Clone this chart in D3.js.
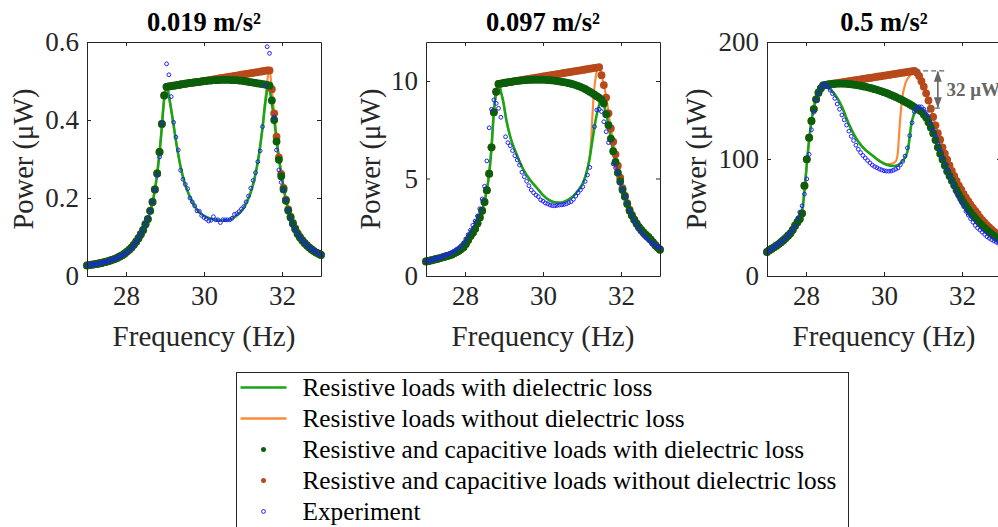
<!DOCTYPE html>
<html>
<head>
<meta charset="utf-8">
<script src="https://cdn.jsdelivr.net/npm/d3@7"></script>
<style>
  body { margin: 0; background: #fff; }
  svg { display: block; font-family: 'Liberation Serif', 'Times New Roman', serif; }
</style>
</head>
<body>
<svg id="chart" width="998" height="527"></svg>
<script>
// frequency sweep (Hz) shared by the dot series and the experiment
const freq = [
  27.00, 27.06, 27.12, 27.18, 27.24, 27.30, 27.36, 27.42, 27.48, 27.54,
  27.60, 27.66, 27.72, 27.78, 27.84, 27.90, 27.96, 28.02, 28.08, 28.14,
  28.20, 28.26, 28.32, 28.38, 28.44, 28.50, 28.56, 28.62, 28.68, 28.74,
  28.80, 28.86, 28.92, 28.98, 29.04, 29.10, 29.16, 29.22, 29.28, 29.34,
  29.40, 29.46, 29.52, 29.58, 29.64, 29.70, 29.76, 29.82, 29.88, 29.94,
  30.00, 30.06, 30.12, 30.18, 30.24, 30.30, 30.36, 30.42, 30.48, 30.54,
  30.60, 30.66, 30.72, 30.78, 30.84, 30.90, 30.96, 31.02, 31.08, 31.14,
  31.20, 31.26, 31.32, 31.38, 31.44, 31.50, 31.56, 31.62, 31.68, 31.74,
  31.80, 31.86, 31.92, 31.98, 32.04, 32.10, 32.16, 32.22, 32.28, 32.34,
  32.40, 32.46, 32.52, 32.58, 32.64, 32.70, 32.76, 32.82, 32.88, 32.94,
  33.00
];

const titles = ['0.019 m/s²', '0.097 m/s²', '0.5 m/s²'];
const yMaxes = [0.6, 12, 200];
const yTicks = [[0, 0.2, 0.4, 0.6], [0, 5, 10], [0, 100, 200]];
const xTicks = [28, 30, 32];

// ---- 0.019 m/s2 ----
const exp1 = [
  0.027, 0.028, 0.029, 0.030, 0.031, 0.032, 0.033, 0.035, 0.036, 0.038,
  0.040, 0.042, 0.044, 0.047, 0.050, 0.053, 0.057, 0.061, 0.066, 0.072,
  0.079, 0.087, 0.097, 0.108, 0.120, 0.135, 0.150, 0.168, 0.190, 0.220,
  0.258, 0.305, 0.392, null, 0.544, 0.516, 0.460, 0.394, 0.356, 0.323,
  0.271, 0.248, 0.235, 0.224, 0.200, 0.190, 0.180, 0.167, 0.166, 0.155,
  0.150, 0.146, 0.141, 0.143, 0.152, 0.144, 0.144, 0.137, 0.144, 0.144,
  0.144, 0.144, 0.148, 0.158, 0.160, 0.165, 0.172, 0.178, 0.190, 0.205,
  0.225, 0.245, 0.265, 0.293, 0.321, 0.383, 0.489, 0.588, 0.571, null,
  0.408, 0.323, 0.272, 0.240, 0.220, 0.196, 0.169, 0.147, 0.130, 0.118,
  0.107, 0.099, 0.091, 0.086, 0.079, 0.074, 0.069, 0.066, 0.062, 0.057,
  0.053
];
const rcLoss1 = [
  0.027, 0.028, 0.029, 0.030, 0.031, 0.032, 0.033, 0.035, 0.036, 0.038,
  0.040, 0.042, 0.044, 0.047, 0.050, 0.053, 0.057, 0.062, 0.067, 0.073,
  0.080, 0.088, 0.097, 0.107, 0.118, 0.133, 0.146, 0.167, 0.190, 0.222,
  0.263, 0.318, 0.390, 0.463, 0.485, 0.486, 0.487, 0.488, 0.489, 0.490,
  0.491, 0.492, 0.493, 0.494, 0.495, 0.496, 0.497, 0.497, 0.498, 0.499,
  0.500, 0.500, 0.501, 0.501, 0.502, 0.502, 0.502, 0.503, 0.503, 0.503,
  0.503, 0.503, 0.502, 0.502, 0.502, 0.501, 0.501, 0.500, 0.499, 0.498,
  0.497, 0.496, 0.495, 0.494, 0.493, 0.492, 0.491, 0.490, 0.488, 0.450,
  0.400, 0.345, 0.298, 0.256, 0.222, 0.193, 0.168, 0.150, 0.134, 0.120,
  0.108, 0.099, 0.091, 0.084, 0.078, 0.073, 0.068, 0.064, 0.060, 0.057,
  0.054
];
const rcNoLoss1 = [
  0.027, 0.028, 0.029, 0.030, 0.031, 0.032, 0.033, 0.035, 0.036, 0.038,
  0.040, 0.042, 0.044, 0.047, 0.050, 0.053, 0.057, 0.062, 0.067, 0.073,
  0.080, 0.088, 0.097, 0.107, 0.118, 0.133, 0.146, 0.167, 0.190, 0.222,
  0.263, 0.318, 0.390, 0.463, 0.485, 0.486, 0.487, 0.488, 0.489, 0.490,
  0.491, 0.492, 0.493, 0.494, 0.495, 0.495, 0.496, 0.497, 0.498, 0.499,
  0.500, 0.501, 0.502, 0.503, 0.504, 0.505, 0.506, 0.507, 0.508, 0.509,
  0.510, 0.511, 0.512, 0.513, 0.514, 0.515, 0.516, 0.517, 0.518, 0.519,
  0.520, 0.521, 0.522, 0.523, 0.524, 0.525, 0.526, 0.527, 0.527, 0.479,
  0.417, 0.357, 0.304, 0.262, 0.226, 0.196, 0.171, 0.152, 0.136, 0.122,
  0.110, 0.100, 0.092, 0.085, 0.079, 0.073, 0.068, 0.064, 0.060, 0.057,
  0.054
];
const resLoss1 = [
  [27.0, 0.027], [27.5, 0.037], [28.0, 0.060], [28.3, 0.094], [28.5, 0.133],
  [28.6, 0.158], [28.7, 0.198], [28.8, 0.262], [28.9, 0.36], [28.98, 0.455],
  [29.05, 0.485], [29.12, 0.45], [29.2, 0.40], [29.3, 0.335], [29.4, 0.28],
  [29.5, 0.24], [29.6, 0.212], [29.7, 0.19], [29.8, 0.173], [29.9, 0.162],
  [30.0, 0.154], [30.2, 0.146], [30.4, 0.142], [30.6, 0.143], [30.8, 0.152],
  [31.0, 0.172], [31.1, 0.19], [31.2, 0.215], [31.3, 0.252], [31.4, 0.305],
  [31.5, 0.38], [31.58, 0.45], [31.66, 0.49], [31.72, 0.455], [31.8, 0.40],
  [31.9, 0.315], [32.0, 0.25], [32.1, 0.195], [32.2, 0.158], [32.3, 0.13],
  [32.4, 0.108], [32.5, 0.093], [32.6, 0.082], [32.7, 0.073], [32.8, 0.066],
  [32.9, 0.059], [33.0, 0.054]
];
const resNoLoss1 = [
  [27.0, 0.027], [27.5, 0.037], [28.0, 0.060], [28.3, 0.094], [28.5, 0.133],
  [28.6, 0.158], [28.7, 0.198], [28.8, 0.262], [28.9, 0.36], [28.98, 0.455],
  [29.05, 0.485], [29.12, 0.45], [29.2, 0.40], [29.3, 0.335], [29.4, 0.28],
  [29.5, 0.24], [29.6, 0.212], [29.7, 0.19], [29.8, 0.173], [29.9, 0.162],
  [30.0, 0.154], [30.2, 0.146], [30.4, 0.142], [30.6, 0.143], [30.8, 0.152],
  [31.0, 0.172], [31.1, 0.19], [31.2, 0.215], [31.3, 0.252], [31.4, 0.305],
  [31.5, 0.38], [31.58, 0.46], [31.68, 0.527], [31.74, 0.479], [31.8, 0.417],
  [31.9, 0.325], [32.0, 0.255], [32.1, 0.197], [32.2, 0.16], [32.3, 0.131],
  [32.4, 0.109], [32.5, 0.094], [32.6, 0.082], [32.7, 0.073], [32.8, 0.066],
  [32.9, 0.059], [33.0, 0.054]
];

// ---- 0.097 m/s2 ----
const exp2 = [
  0.75, 0.78, 0.81, 0.84, 0.88, 0.92, 0.96, 1.00, 1.05, 1.10,
  1.15, 1.21, 1.28, 1.36, 1.45, 1.56, 1.70, 1.90, 2.12, 2.35,
  2.60, 2.82, 3.08, 3.45, 3.95, 4.60, 5.90, 7.60, 8.55, 9.03,
  8.85, 8.60, 8.14, null, 7.14, 6.84, 6.68, 6.43, 6.17, 5.95,
  5.69, 5.32, 5.09, 4.86, 4.63, 4.41, 4.27, 4.15, 4.07, 3.90,
  3.84, 3.74, 3.70, 3.64, 3.61, 3.60, 3.62, 3.64, 3.65, 3.67,
  3.70, 3.76, 3.81, 3.93, 4.10, 4.27, 4.41, 4.58, 4.85, 5.18,
  5.57, null, 7.66, 8.51, 8.55, 8.43, 7.91, 7.40, 6.84, null,
  5.75, 5.55, 5.27, 4.75, 4.45, 4.10, 3.76, 3.38, 3.13, 2.84,
  2.62, 2.41, 2.24, 2.08, 1.95, 1.84, 1.74, 1.65, 1.58, 1.51,
  1.44
];
const rcLoss2 = [
  0.75, 0.77, 0.80, 0.83, 0.86, 0.89, 0.92, 0.96, 0.99, 1.03,
  1.06, 1.10, 1.16, 1.22, 1.30, 1.38, 1.48, 1.64, 1.84, 2.05,
  2.22, 2.42, 2.70, 3.00, 3.35, 3.80, 4.40, 5.25, 6.60, 8.40,
  9.45, 9.85, 9.87, 9.89, 9.91, 9.93, 9.95, 9.97, 9.99, 10.01,
  10.02, 10.03, 10.04, 10.05, 10.06, 10.06, 10.07, 10.07, 10.07, 10.07,
  10.07, 10.06, 10.05, 10.04, 10.03, 10.02, 10.00, 9.98, 9.96, 9.94,
  9.92, 9.89, 9.86, 9.83, 9.79, 9.75, 9.70, 9.65, 9.59, 9.52,
  9.45, 9.38, 9.30, 9.22, 9.14, 9.05, 8.85, 8.30, 7.73, 7.05,
  6.40, 5.85, 5.30, 4.85, 4.41, 4.07, 3.69, 3.35, 3.10, 2.88,
  2.68, 2.50, 2.35, 2.22, 2.10, 2.00, 1.87, 1.72, 1.58, 1.46,
  1.35
];
const rcNoLoss2 = [
  0.75, 0.77, 0.80, 0.83, 0.86, 0.89, 0.92, 0.96, 0.99, 1.03,
  1.06, 1.10, 1.16, 1.22, 1.30, 1.38, 1.48, 1.64, 1.84, 2.05,
  2.22, 2.42, 2.70, 3.00, 3.35, 3.80, 4.40, 5.25, 6.60, 8.40,
  9.45, 9.85, 9.87, 9.89, 9.91, 9.93, 9.95, 9.97, 9.99, 10.01,
  10.03, 10.05, 10.07, 10.09, 10.11, 10.13, 10.15, 10.17, 10.19, 10.21,
  10.23, 10.25, 10.27, 10.29, 10.31, 10.33, 10.35, 10.37, 10.39, 10.41,
  10.43, 10.45, 10.47, 10.49, 10.51, 10.53, 10.55, 10.57, 10.59, 10.61,
  10.63, 10.65, 10.67, 10.69, 10.71, 10.30, 9.79, 9.15, 8.34, 7.57,
  6.89, 6.24, 5.66, 5.04, 4.50, 4.12, 3.74, 3.40, 3.13, 2.90,
  2.70, 2.52, 2.37, 2.24, 2.12, 2.01, 1.88, 1.73, 1.59, 1.47,
  1.36
];
const resLoss2 = [
  [27.0, 0.75], [27.5, 0.98], [27.8, 1.22], [28.0, 1.55], [28.2, 2.22],
  [28.35, 2.85], [28.45, 3.45], [28.55, 4.3], [28.62, 5.25], [28.68, 6.6],
  [28.74, 8.4], [28.8, 9.45], [28.86, 9.85], [28.92, 9.45], [28.98, 8.95],
  [29.06, 8.0], [29.16, 7.14], [29.33, 6.21], [29.5, 5.44], [29.67, 4.92],
  [29.85, 4.5], [30.0, 4.15], [30.15, 3.9], [30.3, 3.78], [30.45, 3.76],
  [30.6, 3.86], [30.76, 4.07], [30.9, 4.38], [31.02, 4.75], [31.1, 5.2],
  [31.19, 5.95], [31.27, 7.0], [31.36, 8.1], [31.43, 8.7], [31.48, 9.0],
  [31.53, 9.0], [31.6, 8.45], [31.68, 7.73], [31.74, 7.05], [31.8, 6.4],
  [31.9, 5.45], [32.0, 4.7], [32.1, 4.07], [32.22, 3.35], [32.34, 2.88],
  [32.46, 2.5], [32.58, 2.22], [32.7, 2.0], [32.82, 1.72], [32.94, 1.46],
  [33.0, 1.35]
];
const resNoLoss2 = [
  [27.0, 0.75], [27.5, 0.98], [27.8, 1.22], [28.0, 1.55], [28.2, 2.22],
  [28.35, 2.85], [28.45, 3.45], [28.55, 4.3], [28.62, 5.25], [28.68, 6.6],
  [28.74, 8.4], [28.8, 9.45], [28.86, 9.85], [28.92, 9.45], [28.98, 8.95],
  [29.06, 8.0], [29.16, 7.14], [29.33, 6.21], [29.5, 5.44], [29.67, 4.92],
  [29.85, 4.5], [30.0, 4.15], [30.15, 3.9], [30.3, 3.78], [30.45, 3.76],
  [30.6, 3.86], [30.76, 4.07], [30.9, 4.38], [31.02, 4.75], [31.1, 5.15],
  [31.18, 5.9], [31.23, 6.8], [31.27, 8.3], [31.31, 9.5], [31.36, 10.3],
  [31.43, 10.72], [31.5, 10.3], [31.56, 9.79], [31.63, 9.08], [31.68, 8.34],
  [31.74, 7.57], [31.8, 6.89], [31.86, 6.24], [31.92, 5.66], [31.98, 5.04],
  [32.04, 4.5], [32.16, 3.74], [32.28, 3.13], [32.4, 2.7], [32.52, 2.37],
  [32.64, 2.12], [32.76, 1.88], [32.88, 1.59], [33.0, 1.36]
];

// ---- 0.5 m/s2 ----
const exp3 = [
  20.5, 22.0, 23.4, 24.8, 26.2, 27.7, 29.3, 31.0, 32.9, 34.9,
  37.2, 39.8, 42.7, 49.0, 54.5, 60.0, 70.0, 83.0, 104.0, 125.0,
  140.0, 150.5, 156.5, 161.0, 163.8, 163.4, 161.6, 158.8, 155.8, 151.8,
  147.0, 142.5, 137.6, 133.5, 129.0, 123.8, 119.4, 115.8, 111.8, 108.3,
  105.5, 103.0, 100.8, 98.7, 96.7, 94.8, 93.5, 92.5, 91.4, 90.7,
  90.0, 89.7, 89.6, 89.7, 90.4, 91.3, 92.3, 95.0, 98.0, 102.5,
  109.5, 120.0, 131.0, 140.4, 143.5, 144.7, 144.5, 142.5, 139.6, 136.2,
  130.5, 124.8, 119.7, 113.4, 107.8, 101.5, 95.8, 90.7, 86.0, 81.0,
  76.0, 70.8, 67.2, 63.2, 59.5, 55.3, 52.1, 49.0, 46.0, 43.3,
  41.0, 39.3, 37.4, 35.6, 33.6, 32.3, 31.0, 30.0, 28.9, 27.9,
  27.0
];
const rcLoss3 = [
  20.5, 22.0, 23.3, 24.5, 25.9, 27.3, 28.9, 30.6, 32.4, 34.4,
  36.5, 39.5, 43.0, 46.0, 48.7, 53.6, 77.2, 99.7, 118.2, 132.5,
  142.7, 151.0, 156.7, 160.4, 163.0, 163.4, 163.7, 164.0, 164.2, 164.3,
  164.4, 164.5, 164.5, 164.4, 164.3, 164.1, 163.9, 163.6, 163.3, 163.0,
  162.6, 162.2, 161.8, 161.3, 160.8, 160.3, 159.7, 159.1, 158.5, 157.8,
  157.1, 156.4, 155.6, 154.8, 153.9, 153.0, 152.1, 151.1, 150.1, 149.0,
  147.9, 146.8, 145.6, 144.4, 143.1, 141.8, 140.5, 138.0, 135.5, 131.5,
  127.0, 122.0, 116.2, 110.0, 104.5, 99.5, 94.5, 89.5, 85.5, 81.5,
  77.5, 73.5, 69.8, 66.2, 63.0, 60.0, 57.0, 54.3, 51.8, 49.5,
  47.2, 45.0, 43.0, 41.0, 39.2, 37.5, 35.9, 34.4, 33.0, 31.7,
  30.5
];
const rcNoLoss3 = [
  20.5, 22.0, 23.3, 24.5, 25.9, 27.3, 28.9, 30.6, 32.4, 34.4,
  36.5, 39.5, 43.0, 46.0, 48.7, 53.6, 77.2, 99.7, 118.2, 132.5,
  142.7, 151.0, 156.7, 160.4, 163.0, 163.3, 163.6, 163.9, 164.3, 164.6,
  164.9, 165.2, 165.5, 165.8, 166.2, 166.5, 166.8, 167.1, 167.4, 167.7,
  168.1, 168.4, 168.7, 169.0, 169.3, 169.6, 170.0, 170.3, 170.6, 170.9,
  171.2, 171.5, 171.9, 172.2, 172.5, 172.8, 173.1, 173.4, 173.8, 174.1,
  174.4, 174.7, 175.0, 175.4, 174.0, 171.0, 166.5, 161.8, 156.1, 150.0,
  143.0, 136.0, 128.8, 122.0, 116.5, 110.0, 104.5, 99.5, 94.5, 89.8,
  85.5, 81.3, 77.3, 73.8, 70.2, 67.0, 64.0, 61.0, 58.3, 55.7,
  53.0, 50.0, 47.7, 45.5, 43.4, 41.5, 39.7, 38.0, 36.4, 34.9,
  33.5
];
const resLoss3 = [
  [27.0, 20.5], [27.3, 27.3], [27.6, 36.5], [27.75, 44], [27.85, 50],
  [27.92, 60], [27.98, 80], [28.04, 103], [28.1, 122], [28.16, 137],
  [28.22, 147], [28.3, 155.5], [28.38, 161], [28.45, 163.2], [28.52, 162.5],
  [28.6, 160.3], [28.75, 154.7], [28.92, 144.7], [29.09, 130.5], [29.26, 119],
  [29.44, 110.5], [29.69, 103.4], [29.9, 98], [30.07, 95], [30.24, 94],
  [30.37, 94.9], [30.46, 97.7], [30.55, 102], [30.61, 107.7], [30.66, 119],
  [30.69, 127.6], [30.76, 137.6], [30.85, 142.5], [30.93, 143.3], [31.0, 141],
  [31.1, 134.8], [31.2, 127], [31.32, 116.2], [31.44, 104.5], [31.56, 94.5],
  [31.68, 85.5], [31.8, 77.5], [31.92, 69.8], [32.04, 63], [32.16, 57],
  [32.28, 51.8], [32.4, 47.2], [32.52, 43], [32.64, 39.2], [32.76, 35.9],
  [32.88, 33], [33.0, 30.5]
];
const resNoLoss3 = [
  [27.0, 20.5], [27.3, 27.3], [27.6, 36.5], [27.75, 44], [27.85, 50],
  [27.92, 60], [27.98, 80], [28.04, 103], [28.1, 122], [28.16, 137],
  [28.22, 147], [28.3, 155.5], [28.38, 161], [28.45, 163.2], [28.52, 162.5],
  [28.6, 160.3], [28.75, 154.7], [28.92, 144.7], [29.09, 130.5], [29.26, 119],
  [29.44, 110.5], [29.69, 103.4], [29.9, 98], [30.07, 95.5], [30.2, 96],
  [30.3, 98], [30.35, 104], [30.4, 127.6], [30.46, 150.4], [30.55, 164.7],
  [30.68, 171.8], [30.78, 175.4], [30.84, 174], [30.9, 171], [30.96, 166.5],
  [31.02, 161.8], [31.08, 156.1], [31.14, 150], [31.2, 143], [31.32, 128.8],
  [31.44, 116.5], [31.56, 104.5], [31.68, 94.5], [31.8, 85.5], [31.92, 77.3],
  [32.04, 70.2], [32.16, 64], [32.28, 58.3], [32.4, 53], [32.52, 47.7],
  [32.64, 43.4], [32.76, 39.7], [32.88, 36.4], [33.0, 33.5]
];

// 32 uW gap marked on the 0.5 m/s2 panel
const gapTop = 175.4;
const gapSize = 32;

const legendLabels = [
  'Resistive loads with dielectric loss',
  'Resistive loads without dielectric loss',
  'Resistive and capacitive loads with dielectric loss',
  'Resistive and capacitive loads without dielectric loss',
  'Experiment'
];

const colors = {
  resLoss: '#17a617',
  resNoLoss: '#fb8a3c',
  rcLoss: '#0b5f0b',
  rcNoLoss: '#b8491a',
  exp: '#1f1fff',
  axis: '#262626'
};

const panels = [
  { exp: exp1, rcLoss: rcLoss1, rcNoLoss: rcNoLoss1, resLoss: resLoss1, resNoLoss: resNoLoss1 },
  { exp: exp2, rcLoss: rcLoss2, rcNoLoss: rcNoLoss2, resLoss: resLoss2, resNoLoss: resNoLoss2 },
  { exp: exp3, rcLoss: rcLoss3, rcNoLoss: rcNoLoss3, resLoss: resLoss3, resNoLoss: resNoLoss3 }
];

const svg = d3.select('#chart');
const plotTop = 42;
const width = 234;
const height = 234;
const panelLeft = [87, 426, 767];
const yLabelOffset = [64, 56, 71];

const defs = svg.append('defs');
defs
  .append('marker')
  .attr('id', 'arrow')
  .attr('viewBox', '0 0 10 10')
  .attr('refX', 9)
  .attr('refY', 5)
  .attr('markerWidth', 7)
  .attr('markerHeight', 7)
  .attr('orient', 'auto-start-reverse')
  .append('path')
  .attr('d', 'M0,1.5 L10,5 L0,8.5 z')
  .attr('fill', '#666');

panels.forEach((p, k) => {
  const g = svg.append('g').attr('transform', `translate(${panelLeft[k]},${plotTop})`);

  const x = d3.scaleLinear().domain([27, 33]).range([0, width]);
  const y = d3.scaleLinear().domain([0, yMaxes[k]]).range([height, 0]);

  const line = d3
    .line()
    .x((d) => x(d[0]))
    .y((d) => y(d[1]))
    .curve(d3.curveMonotoneX);

  // model curves with resistive loads
  g.append('path')
    .datum(p.resNoLoss)
    .attr('fill', 'none')
    .attr('stroke', colors.resNoLoss)
    .attr('stroke-width', 2.2)
    .attr('d', line);
  g.append('path')
    .datum(p.resLoss)
    .attr('fill', 'none')
    .attr('stroke', colors.resLoss)
    .attr('stroke-width', 2.6)
    .attr('d', line);

  // resistive + capacitive loads (dots)
  const dots = (values, color) => {
    g.append('g')
      .selectAll('circle')
      .data(values.map((v, i) => [freq[i], v]))
      .enter()
      .append('circle')
      .attr('cx', (d) => x(d[0]))
      .attr('cy', (d) => y(d[1]))
      .attr('r', 3.9)
      .attr('fill', color);
  };
  dots(p.rcNoLoss, colors.rcNoLoss);
  dots(p.rcLoss, colors.rcLoss);

  // experiment (open circles)
  g.append('g')
    .selectAll('circle')
    .data(p.exp.map((v, i) => [freq[i], v]).filter((d) => d[1] !== null))
    .enter()
    .append('circle')
    .attr('cx', (d) => x(d[0]))
    .attr('cy', (d) => y(d[1]))
    .attr('r', 1.9)
    .attr('fill', 'none')
    .attr('stroke', colors.exp)
    .attr('stroke-width', 1);

  // box with inward ticks on all four sides
  const styleAxis = (sel) => {
    sel.selectAll('path, line').attr('stroke', colors.axis);
    sel.selectAll('text').attr('fill', colors.axis).style('font-size', '27px');
    sel.attr('font-family', null);
  };
  g.append('g')
    .attr('transform', `translate(0,${height})`)
    .call(d3.axisBottom(x).tickValues(xTicks).tickFormat((d) => d).tickSize(-4).tickSizeOuter(0).tickPadding(10))
    .call(styleAxis);
  g.append('g')
    .call(d3.axisTop(x).tickValues(xTicks).tickSize(-4).tickSizeOuter(0).tickFormat(''))
    .call(styleAxis);
  g.append('g')
    .call(d3.axisLeft(y).tickValues(yTicks[k]).tickFormat((d) => d).tickSize(-4).tickSizeOuter(0).tickPadding(8))
    .call(styleAxis);
  g.append('g')
    .attr('transform', `translate(${width},0)`)
    .call(d3.axisRight(y).tickValues(yTicks[k]).tickSize(-4).tickSizeOuter(0).tickFormat(''))
    .call(styleAxis);

  // title and axis labels
  g.append('text')
    .attr('x', width / 2)
    .attr('y', -11)
    .attr('text-anchor', 'middle')
    .style('font-size', '26.5px')
    .style('font-weight', 'bold')
    .text(titles[k]);
  g.append('text')
    .attr('x', width / 2)
    .attr('y', height + 70)
    .attr('text-anchor', 'middle')
    .attr('fill', colors.axis)
    .style('font-size', '29px')
    .text('Frequency (Hz)');
  g.append('text')
    .attr('transform', `translate(${-yLabelOffset[k]},${height / 2}) rotate(-90)`)
    .attr('text-anchor', 'middle')
    .attr('dy', '0.35em')
    .attr('fill', colors.axis)
    .style('font-size', '28.5px')
    .text('Power (μW)');

  // 32 uW annotation on the last panel
  if (k === 2) {
    const ann = g.append('g').attr('stroke', '#666').attr('stroke-width', 1.3);
    ann.append('line')
      .attr('x1', x(30.8)).attr('x2', x(31.58))
      .attr('y1', y(gapTop)).attr('y2', y(gapTop))
      .attr('stroke-dasharray', '5,3');
    ann.append('line')
      .attr('x1', x(31.1)).attr('x2', x(31.5))
      .attr('y1', y(gapTop - gapSize)).attr('y2', y(gapTop - gapSize))
      .attr('stroke-dasharray', '5,3');
    ann.append('line')
      .attr('x1', x(31.38)).attr('x2', x(31.38))
      .attr('y1', y(gapTop) + 1).attr('y2', y(gapTop - gapSize) - 1)
      .attr('stroke-width', 1.6)
      .attr('marker-start', 'url(#arrow)')
      .attr('marker-end', 'url(#arrow)');
    g.append('text')
      .attr('x', x(31.6))
      .attr('y', y(gapTop - gapSize / 2))
      .attr('dy', '0.35em')
      .attr('fill', '#666')
      .style('font-size', '19px')
      .style('font-weight', 'bold')
      .text(`${gapSize} μW`);
  }
});

// legend
const legend = svg.append('g').attr('transform', 'translate(236.5,372.5)');
legend
  .append('rect')
  .attr('width', 612)
  .attr('height', 170)
  .attr('fill', '#fff')
  .attr('stroke', colors.axis)
  .attr('stroke-width', 1);

const legendKeys = ['resLoss', 'resNoLoss', 'rcLoss', 'rcNoLoss', 'exp'];
const rowY = d3.scalePoint().domain(legendKeys).range([15, 139]);

legendKeys.forEach((key, i) => {
  const yy = rowY(key);
  if (key === 'resLoss' || key === 'resNoLoss') {
    legend
      .append('line')
      .attr('x1', 4)
      .attr('x2', 50)
      .attr('y1', yy)
      .attr('y2', yy)
      .attr('stroke', colors[key])
      .attr('stroke-width', 2.6);
  } else if (key === 'exp') {
    legend
      .append('circle')
      .attr('cx', 27)
      .attr('cy', yy)
      .attr('r', 1.9)
      .attr('fill', 'none')
      .attr('stroke', colors.exp)
      .attr('stroke-width', 1);
  } else {
    legend.append('circle').attr('cx', 27).attr('cy', yy).attr('r', 2.5).attr('fill', colors[key]);
  }
  legend
    .append('text')
    .attr('x', 66)
    .attr('y', yy)
    .attr('dy', '0.35em')
    .attr('fill', '#000')
    .style('font-size', '25.3px')
    .text(legendLabels[i]);
});
</script>
</body>
</html>
